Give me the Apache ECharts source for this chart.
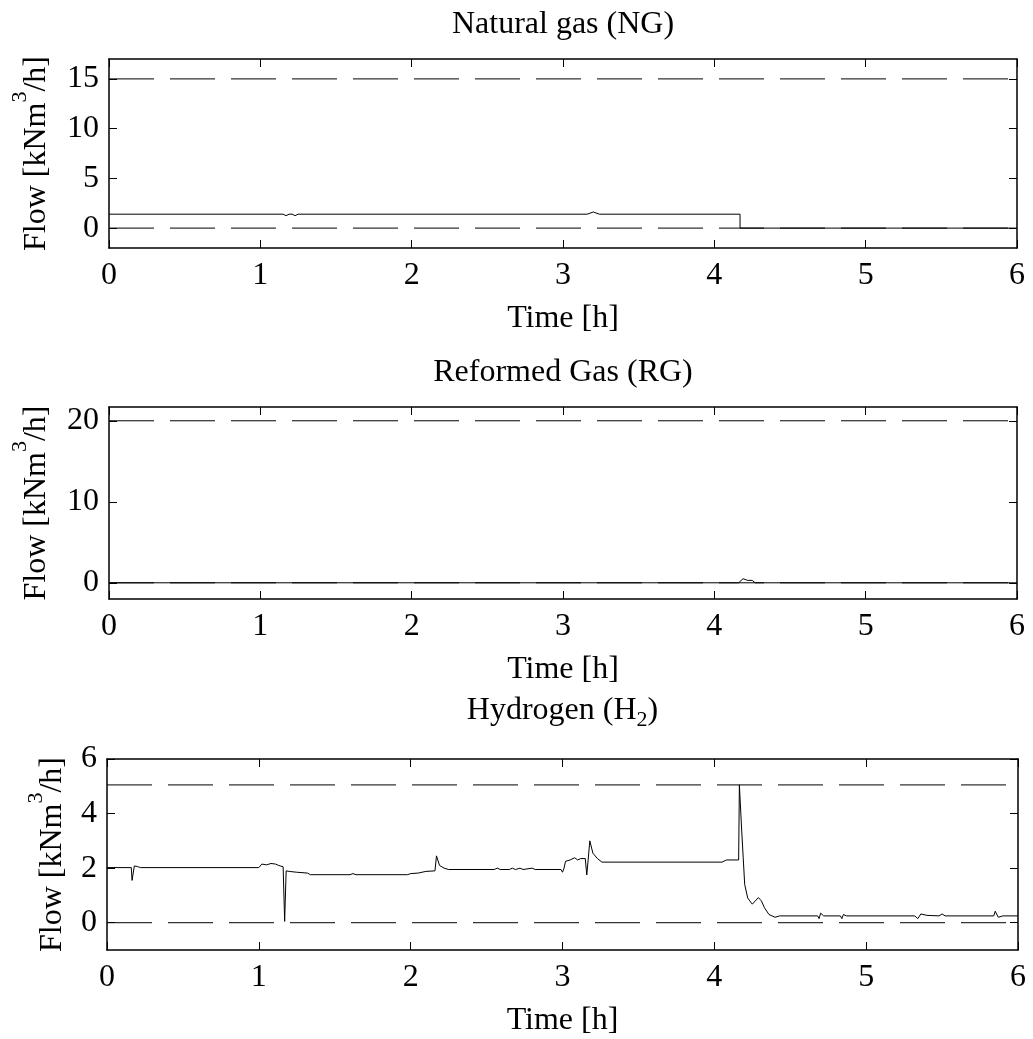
<!DOCTYPE html>
<html><head><meta charset="utf-8">
<script src="https://cdn.jsdelivr.net/npm/echarts@6/dist/echarts.min.js"></script>
<style>html,body{margin:0;padding:0;background:#fff}#c{width:1033px;height:1039px}</style>
</head><body><div id="c"></div>
<script>
// ---- data ----
const ngTime = [0, 1.15, 1.17, 1.19, 1.21, 1.23, 1.25, 3.16, 3.2, 3.24, 4.17, 4.17, 6];
const ngFlow = [1.4, 1.4, 1.25, 1.4, 1.4, 1.25, 1.4, 1.4, 1.62, 1.4, 1.4, 0, 0];

const rgTime = [0, 4.16, 4.19, 4.22, 4.25, 4.27, 6];
const rgFlow = [0, 0, 0.5, 0.3, 0.3, 0, 0];

const h2Time = [0, 0.16, 0.165, 0.18, 0.2, 0.22, 1.0, 1.02, 1.05, 1.08, 1.11, 1.13, 1.16, 1.17, 1.18, 1.2, 1.25, 1.32, 1.34,
  1.6, 1.62, 1.64, 1.98, 2.0, 2.05, 2.06, 2.1, 2.16, 2.17, 2.19, 2.22, 2.25, 2.55, 2.57, 2.59, 2.65, 2.67, 2.69, 2.72, 2.74,
  2.8, 2.82, 2.99, 3.0, 3.01, 3.02, 3.05, 3.08, 3.1, 3.12, 3.15, 3.16, 3.18, 3.2, 3.23, 3.26, 4.05, 4.08, 4.16, 4.165,
  4.18, 4.19, 4.2, 4.22, 4.25, 4.29, 4.31, 4.33, 4.36, 4.4, 4.43, 4.68, 4.69, 4.7, 4.72, 4.83, 4.84, 4.85, 4.87,
  5.32, 5.34, 5.36, 5.4, 5.48, 5.5, 5.52, 5.84, 5.85, 5.87, 5.9, 6.0];
const h2Flow = [2.02, 2.02, 1.55, 2.08, 2.06, 2.02, 2.02, 2.15, 2.12, 2.17, 2.15, 2.1, 2.05, 0.05, 1.9, 1.88, 1.85, 1.82, 1.76,
  1.76, 1.8, 1.76, 1.76, 1.8, 1.82, 1.87, 1.88, 1.9, 2.45, 2.1, 2.0, 1.95, 1.95, 2.0, 1.95, 1.95, 2.0, 1.95, 2.0, 1.95,
  2.0, 1.95, 1.95, 1.85, 2.0, 2.25, 2.3, 2.38, 2.3, 2.35, 2.35, 1.75, 3.0, 2.55, 2.35, 2.22, 2.22, 2.3, 2.3, 5.05,
  3.4, 2.4, 1.4, 0.9, 0.68, 0.92, 0.8, 0.55, 0.3, 0.2, 0.25, 0.25, 0.15, 0.35, 0.25, 0.25, 0.15, 0.3, 0.25,
  0.25, 0.15, 0.32, 0.27, 0.25, 0.32, 0.25, 0.25, 0.42, 0.2, 0.25, 0.25];

const ngLimits = [0, 15];
const rgLimits = [0, 20];
const h2Limits = [0, 5.05];

const ngTicks = [0, 5, 10, 15];
const rgTicks = [0, 10, 20];
const h2Ticks = [0, 2, 4, 6];

const ngRange = [-2, 17];
const rgRange = [-2, 21.7];
const h2Range = [-1, 6];
const timeRange = [0, 6];
const timeInterval = 1;

const titles = ['{n|Natural gas (NG)}', '{n|Reformed Gas (RG)}', '{n|Hydrogen (H}{s|2}{n|)}'];
const xName = 'Time [h]';
const yName = '{n|Flow [kNm}{p|3}{n|/h]}';

// ---- layout ----
const FONT = "'Liberation Serif', 'Times New Roman', serif";
const panels = [
  {time: ngTime, flow: ngFlow, limits: ngLimits, ticks: ngTicks, range: ngRange,
   grid: {left: 109, right: 16, top: 59, height: 189}, titleY: 25, yGap: 44},
  {time: rgTime, flow: rgFlow, limits: rgLimits, ticks: rgTicks, range: rgRange,
   grid: {left: 109, right: 16, top: 407, height: 192}, titleY: 373, yGap: 44},
  {time: h2Time, flow: h2Flow, limits: h2Limits, ticks: h2Ticks, range: h2Range,
   grid: {left: 107, right: 15, top: 759, height: 191}, titleY: 711, yGap: 26}
];

const black = '#000';
const grids = [], xAxes = [], yAxes = [], series = [], graphics = [];
panels.forEach((p, i) => {
  grids.push(Object.assign({containLabel: false, outerBoundsMode: 'none'}, p.grid));
  const common = {gridIndex: i, type: 'value', min: timeRange[0], max: timeRange[1], interval: timeInterval,
    splitLine: {show: false}, axisLine: {show: true, onZero: false, lineStyle: {color: black, width: 1.5}},
    axisTick: {show: true, inside: true, length: 8, lineStyle: {color: black, width: 1}}};
  xAxes.push(Object.assign({}, common, {position: 'bottom',
    axisLabel: {show: true, margin: 12, fontSize: 32, fontFamily: FONT, color: black},
    name: xName, nameLocation: 'middle', nameGap: 55,
    nameTextStyle: {fontSize: 32, fontFamily: FONT, color: black}}));
  xAxes.push(Object.assign({}, common, {position: 'top', axisLabel: {show: false}}));
  const ycommon = {gridIndex: i, type: 'value', min: p.range[0], max: p.range[1],
    splitLine: {show: false}, axisLine: {show: true, onZero: false, lineStyle: {color: black, width: 1.5}},
    axisTick: {show: true, inside: true, length: 8, customValues: p.ticks, lineStyle: {color: black, width: 1}}};
  yAxes.push(Object.assign({}, ycommon, {position: 'left',
    axisLabel: {show: true, margin: 10, customValues: p.ticks, fontSize: 32, fontFamily: FONT, color: black},
    name: yName, nameLocation: 'middle', nameGap: p.yGap, nameRotate: 90,
    nameTextStyle: {color: black, rich: {
      n: {fontSize: 32, fontFamily: FONT, color: black, lineHeight: 56},
      p: {fontSize: 22, fontFamily: FONT, color: black, lineHeight: 22, verticalAlign: 'top'}}}}));
  yAxes.push(Object.assign({}, ycommon, {position: 'right', axisLabel: {show: false}}));

  p.limits.forEach(L => {
    series.push({type: 'line', xAxisIndex: 2 * i, yAxisIndex: 2 * i, z: 2,
      data: timeRange.map(t => [t, L]), symbol: 'none', silent: true,
      lineStyle: {color: black, width: 1, type: [45, 16]}});
  });
  series.push({type: 'line', xAxisIndex: 2 * i, yAxisIndex: 2 * i, z: 3,
    data: p.time.map((t, k) => [t, p.flow[k]]), symbol: 'none',
    lineStyle: {color: black, width: 1}});

  const cx = p.grid.left + (1033 - p.grid.left - p.grid.right) / 2;
  graphics.push({type: 'text', x: cx, y: p.titleY, style: {
    text: titles[i], align: 'center', verticalAlign: 'middle',
    rich: {n: {fontSize: 32, fontFamily: FONT, fill: black, lineHeight: 40},
           s: {fontSize: 22, fontFamily: FONT, fill: black, lineHeight: 22, verticalAlign: 'bottom'}}}});
});

const chart = echarts.init(document.getElementById('c'), null, {renderer: 'canvas'});
chart.setOption({
  animation: false,
  backgroundColor: '#fff',
  grid: grids, xAxis: xAxes, yAxis: yAxes, series: series, graphic: graphics
});
</script>
</body></html>
